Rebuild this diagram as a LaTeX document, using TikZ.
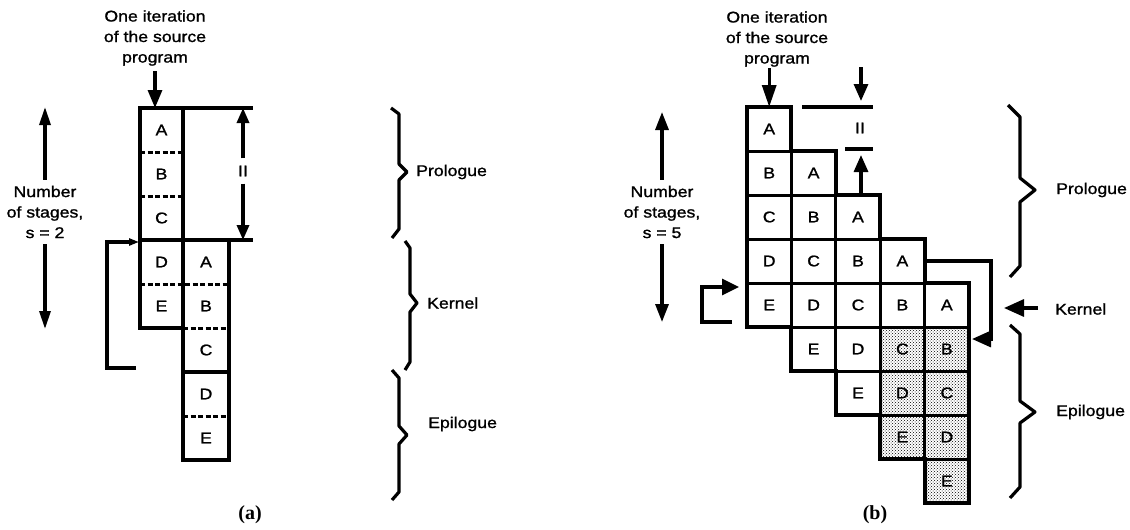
\documentclass[tikz,border=0pt]{standalone}
\usepackage{fontspec}
\setmainfont{Liberation Serif}
\newfontfamily\labelfont[FakeStretch=1.14,FakeBold=1.2]{Liberation Sans}
\usetikzlibrary{arrows.meta,patterns}

\begin{document}
\begin{tikzpicture}[x=1pt,y=-1pt,
  txt/.style={font=\labelfont\fontsize{15.5}{20.5}\selectfont, align=center, inner sep=0pt},
  side/.style={font=\labelfont\fontsize{15.5}{18}\selectfont, anchor=west, inner sep=0pt},
  letter/.style={font=\labelfont\fontsize{15.5}{15.5}\selectfont},
  cellA/.style={letter, inner sep=0pt, outer sep=0pt, minimum height=44pt},
  cellB/.style={letter, draw, line width=3pt, inner sep=0pt, outer sep=0pt, minimum width=44.4pt, minimum height=44pt},
  dotfill/.style={fill=black!12, pattern=crosshatch dots, pattern color=black},
  edge/.style={line width=3.4pt},
  outline/.style={line width=4pt, line join=miter},
  sep/.style={line width=3pt, dash pattern=on 5pt off 2.5pt},
  brace/.style={line width=3.2pt, line join=round},
  head/.style args={#1 by #2}{line width=3.2pt, -{Triangle[length=#1,width=#2]}},
  caption/.style={font=\bfseries\fontsize{20}{20}\selectfont, inner sep=0pt}
]
\useasboundingbox (0,0) rectangle (1130,530);

% ---------------- (a) : s = 2 ----------------
\node[txt] (titleA) at (155,38) {One iteration\\of the source\\program};
\coordinate (tailA) at (155,71);

\foreach \i/\t in {0/A,1/B,2/C,3/D,4/E}
  \node[cellA, minimum width=43pt] (a\i) at (161.5,{130+44*\i}) {\t};
\foreach \i/\t in {0/A,1/B,2/C,3/D,4/E}
  \node[cellA, minimum width=46pt] (c\i) at (206,{262+44*\i}) {\t};

\draw[head=18pt by 14pt] (tailA) -- ([xshift=-6.5pt]a0.north);

\draw[edge] (a0.north west) rectangle (a4.south east);
\draw[edge] (c0.north west) rectangle (c4.south east);
\coordinate (iiTopR) at (253,108);
\coordinate (iiBotR) at (253,240);
\draw[edge] (a0.north west) -- (iiTopR);
\draw[edge] (a3.north west) -- (iiBotR);
\draw[edge] (c2.south west) -- (c2.south east);
\draw[sep] (a0.south west) -- (a0.south east);
\draw[sep] (a1.south west) -- (a1.south east);
\draw[sep] (a3.south west) -- (c0.south east);
\draw[sep] (c1.south west) -- (c1.south east);
\draw[sep] (c3.south west) -- (c3.south east);

% initiation interval
\node[txt, inner sep=7pt] (IIa) at (243,171) {II};
\coordinate (IIaT) at (243,108);
\coordinate (IIaB) at (243,240);
\draw[head=15pt by 12pt] (IIa) -- (IIaT);
\draw[head=15pt by 12pt] (IIa) -- (IIaB);

% number of stages
\node[txt, inner sep=6pt] (nsA) at (45,212) {Number\\of stages,\\s = 2};
\coordinate (nsAup) at (45,107);
\coordinate (nsAdn) at (45,329);
\draw[head=18pt by 11pt] (nsA) -- (nsAup);
\draw[head=18pt by 11pt] (nsA) -- (nsAdn);

% loop back edge
\coordinate (la1) at (136,368);
\coordinate (la2) at (107,368);
\coordinate (la3) at (107,242);
\coordinate (la4) at (139,242);
\draw[head=10pt by 7pt] (la1) -- (la2) -- (la3) -- (la4);

% braces
\draw[brace] (391,108) -- (399,114) -- (399,164) -- (407,172) -- (399,180) -- (399,229) -- (392,238);
\draw[brace] (405,241) -- (410,248) -- (410,294) -- (417,303) -- (410,312) -- (410,362) -- (405,370);
\draw[brace] (392,370) -- (399,378) -- (399,426) -- (407,435) -- (399,444) -- (399,492) -- (392,500);
\node[side] (proA) at (416,172) {Prologue};
\node[side] (kerA) at (427,303) {Kernel};
\node[side] (epiA) at (428,424) {Epilogue};

\node[caption] (capA) at (250,515) {(a)};

% ---------------- (b) : s = 5 ----------------
\node[txt] (titleB) at (777,39) {One iteration\\of the source\\program};
\coordinate (tailB) at (769.2,68);

\foreach \r/\c/\t in {0/0/A, 1/0/B,1/1/A, 2/0/C,2/1/B,2/2/A,
                      3/0/D,3/1/C,3/2/B,3/3/A, 4/0/E,4/1/D,4/2/C,4/3/B,4/4/A,
                      5/1/E,5/2/D, 6/2/E}
  \node[cellB] (b\r\c) at ({769.2+44.4*\c},{129+44*\r}) {\t};
\foreach \r/\c/\t in {5/3/C,5/4/B, 6/3/D,6/4/C, 7/3/E,7/4/D, 8/4/E}
  \node[cellB, dotfill] (b\r\c) at ({769.2+44.4*\c},{129+44*\r}) {\t};

% staircase outline of the schedule
\draw[outline] (b00.north west) -- (b00.north east) -- (b10.north east) -- (b11.north east)
  -- (b21.north east) -- (b22.north east) -- (b32.north east) -- (b33.north east)
  -- (b43.north east) -- (b44.north east) -- (b84.south east) -- (b84.south west)
  -- (b73.south east) -- (b73.south west) -- (b62.south east) -- (b62.south west)
  -- (b51.south east) -- (b51.south west) -- (b40.south east) -- (b40.south west) -- cycle;

\draw[head=22pt by 14pt] (tailB) -- (b00.north);

% initiation interval
\coordinate (iiL1) at (802,107);
\coordinate (iiR1) at (873,107);
\coordinate (iiL2) at (845,149);
\coordinate (iiR2) at (873,149);
\draw[edge] (iiL1) -- (iiR1);
\draw[edge] (iiL2) -- (iiR2);
\node[txt] (IIb) at (860,128) {II};
\coordinate (iiDnT) at (861,67);
\coordinate (iiDnH) at (861,101);
\coordinate (iiUpT) at (861,195);
\coordinate (iiUpH) at (861,155);
\draw[head=17pt by 14pt] (iiDnT) -- (iiDnH);
\draw[head=17pt by 14pt] (iiUpT) -- (iiUpH);

% number of stages
\node[txt, inner sep=6pt] (nsB) at (662,212) {Number\\of stages,\\s = 5};
\coordinate (nsBup) at (662,112);
\coordinate (nsBdn) at (662,322);
\draw[head=18pt by 13pt] (nsB) -- (nsBup);
\draw[head=18pt by 13pt] (nsB) -- (nsBdn);

% loop back edge of the kernel
\coordinate (lb1) at (732,322);
\coordinate (lb2) at (702,322);
\coordinate (lb3) at (702,287);
\coordinate (lb4) at (739,287);
\draw[head=17pt by 16pt] (lb1) -- (lb2) -- (lb3) -- (lb4);

% path into the epilogue
\coordinate (ep1) at (991,261);
\coordinate (ep2) at (991,339);
\coordinate (ep3) at (972,339);
\draw[head=19pt by 16pt] ([xshift=2pt]b33.east) -- (ep1) -- (ep2) -- (ep3);

% kernel pointer
\coordinate (kerTail) at (1038,308);
\coordinate (kerTip) at (1004,308);
\draw[head=20pt by 17pt] (kerTail) -- (kerTip);

% braces
\draw[brace] (1008,105) -- (1020,117) -- (1020,178) -- (1035,190) -- (1020,202) -- (1020,266) -- (1010,277);
\draw[brace] (1010,325) -- (1020,334) -- (1020,401) -- (1035,412) -- (1020,423) -- (1020,487) -- (1010,498);
\node[side] (proB) at (1056,190) {Prologue};
\node[side] (kerB) at (1055,309) {Kernel};
\node[side] (epiB) at (1056,412) {Epilogue};

\node[caption] (capB) at (875,515) {(b)};
\end{tikzpicture}
\end{document}
